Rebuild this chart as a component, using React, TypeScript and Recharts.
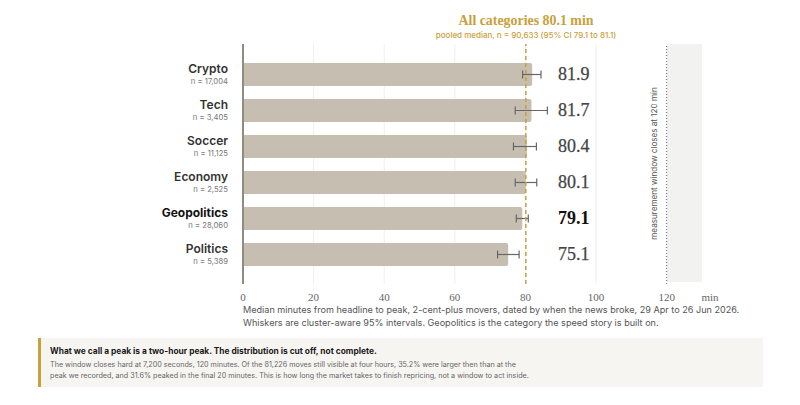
// App.tsx
import React from "react";
import {
  BarChart,
  Bar,
  XAxis,
  YAxis,
  CartesianGrid,
  ErrorBar,
  LabelList,
  ReferenceArea,
  ReferenceLine,
} from "recharts";

const categories = ["Crypto", "Tech", "Soccer", "Economy", "Geopolitics", "Politics"];
const sampleSizes = ["17,004", "3,405", "11,125", "2,525", "28,060", "5,389"];
const medians = [81.9, 81.7, 80.4, 80.1, 79.1, 75.1];
const ciLow = [79.2, 77.1, 76.6, 77.1, 77.4, 72.1];
const ciHigh = [84.4, 86.2, 83.1, 83.2, 80.8, 78.2];

const xTicks = [0, 20, 40, 60, 80, 100, 120, 130];
const gridValues = [20, 40, 60, 80, 100];
const pooledMedian = 80.1;
const windowClose = 120;
const axisMax = 130;
const highlighted = "Geopolitics";

const data = categories.map((name, i) => ({
  name,
  median: medians[i],
  err: [medians[i] - ciLow[i], ciHigh[i] - medians[i]],
}));

const SANS = "Inter, sans-serif";
const SERIF = "'Liberation Serif', serif";
const GOLD = "#c9a03c";

const CategoryTick = ({ x, y, payload, index }: any) => {
  const isLead = payload.value === highlighted;
  return (
    <g>
      <text
        x={x - 7}
        y={y - 1}
        textAnchor="end"
        fontFamily={SANS}
        fontSize={12}
        fontWeight={isLead ? 700 : 600}
        fill={isLead ? "#111" : "#333"}
      >
        {payload.value}
      </text>
      <text x={x - 7} y={y + 10} textAnchor="end" fontFamily={SANS} fontSize={7.7} fill="#777">
        n = {sampleSizes[index]}
      </text>
    </g>
  );
};

const MinuteTick = ({ x, y, payload }: any) => (
  <text
    x={payload.value === axisMax ? x + 8 : x}
    y={y + 9}
    textAnchor="middle"
    fontFamily={SERIF}
    fontSize={11}
    fill="#666"
  >
    {payload.value === axisMax ? "min" : payload.value}
  </text>
);

const ValueLabel = ({ y, height, value, index }: any) => {
  const isLead = categories[index] === highlighted;
  return (
    <text
      x={558}
      y={y + height / 2 + 5}
      fontFamily={SERIF}
      fontSize={18}
      fontWeight={isLead ? 700 : 400}
      fill={isLead ? "#111" : "#444"}
      stroke={isLead ? "none" : "#444"}
      strokeWidth={0.25}
    >
      {value.toFixed(1)}
    </text>
  );
};

const WindowLabel = ({ viewBox }: any) => (
  <text
    x={viewBox.x - 12}
    y={163.5}
    transform={`rotate(-90 ${viewBox.x - 12} 163.5)`}
    textAnchor="middle"
    dominantBaseline="middle"
    fontFamily={SANS}
    fontSize={8.1}
    fill="#555"
  >
    measurement window closes at 120 min
  </text>
);

// the band runs the full plot height, past the axis padding
const WindowBand = ({ x, width }: any) => <rect x={x} y={44} width={width} height={238} fill="#f2f2f1" />;

export default function App() {
  return (
    <div style={{ position: "absolute", left: 0, top: 0, width: 800, height: 405, background: "#fff" }}>
      <div
        style={{
          position: "absolute",
          left: 326,
          width: 400,
          top: 12,
          textAlign: "center",
          fontFamily: SERIF,
          fontWeight: 700,
          fontSize: 13.9,
          lineHeight: "18px",
          color: GOLD,
        }}
      >
        All categories 80.1 min
      </div>
      <div
        style={{
          position: "absolute",
          left: 326,
          width: 400,
          top: 29,
          textAlign: "center",
          fontFamily: SANS,
          fontSize: 8,
          fontWeight: 500,
          lineHeight: "12px",
          color: GOLD,
        }}
      >
        pooled median, n = 90,633 (95% CI 79.1 to 81.1)
      </div>

      <BarChart
        width={800}
        height={405}
        data={data}
        layout="vertical"
        margin={{ top: 44, right: 98, bottom: 91, left: 0 }}
        barCategoryGap={0}
      >
        <CartesianGrid horizontal={false} verticalValues={gridValues} stroke="#f0efec" />
        <ReferenceArea x1={windowClose} x2={axisMax} shape={<WindowBand />} />
        <XAxis
          type="number"
          domain={[0, axisMax]}
          ticks={xTicks}
          axisLine={false}
          tickLine={false}
          tick={<MinuteTick />}
          height={30}
          interval={0}
        />
        <YAxis
          type="category"
          dataKey="name"
          width={243}
          padding={{ top: 12, bottom: 12 }}
          axisLine={{ stroke: "#8f8b82", strokeWidth: 2 }}
          tickLine={false}
          tick={<CategoryTick />}
          interval={0}
        />
        <Bar dataKey="median" fill="#c6bfb1" barSize={23} radius={[0, 2, 2, 0]} isAnimationActive={false}>
          <ErrorBar
            dataKey="err"
            direction="x"
            width={4}
            stroke="#666"
            strokeWidth={1.2}
            isAnimationActive={false}
          />
          <LabelList dataKey="median" content={<ValueLabel />} />
        </Bar>
        <ReferenceLine x={pooledMedian} stroke={GOLD} strokeWidth={1.5} strokeDasharray="4 3" />
        <ReferenceLine
          x={windowClose}
          stroke="#666"
          strokeWidth={1}
          strokeDasharray="1 2"
          label={<WindowLabel />}
        />
      </BarChart>

      <div
        style={{
          position: "absolute",
          left: 243,
          top: 303,
          width: 540,
          fontFamily: SANS,
          fontSize: 9.1,
          lineHeight: "13px",
          whiteSpace: "nowrap",
          color: "#555",
        }}
      >
        Median minutes from headline to peak, 2-cent-plus movers, dated by when the news broke, 29 Apr to 26 Jun 2026.
        <br />
        Whiskers are cluster-aware 95% intervals. Geopolitics is the category the speed story is built on.
      </div>

      <div
        style={{
          position: "absolute",
          left: 38,
          top: 338,
          width: 725,
          height: 49,
          boxSizing: "border-box",
          background: "#f6f5f2",
          borderLeft: `3px solid ${GOLD}`,
          paddingLeft: 9,
          fontFamily: SANS,
        }}
      >
        <div style={{ marginTop: 7, fontSize: 8.4, fontWeight: 700, lineHeight: "13px", color: "#1a1a1a" }}>
          What we call a peak is a two-hour peak. The distribution is cut off, not complete.
        </div>
        <div style={{ marginTop: 2, fontSize: 7.2, lineHeight: "10.5px", color: "#666", whiteSpace: "nowrap" }}>
          The window closes hard at 7,200 seconds, 120 minutes. Of the 81,226 moves still visible at four hours, 35.2% were larger then than at the
          <br />
          peak we recorded, and 31.6% peaked in the final 20 minutes. This is how long the market takes to finish repricing, not a window to act inside.
        </div>
      </div>
    </div>
  );
}
